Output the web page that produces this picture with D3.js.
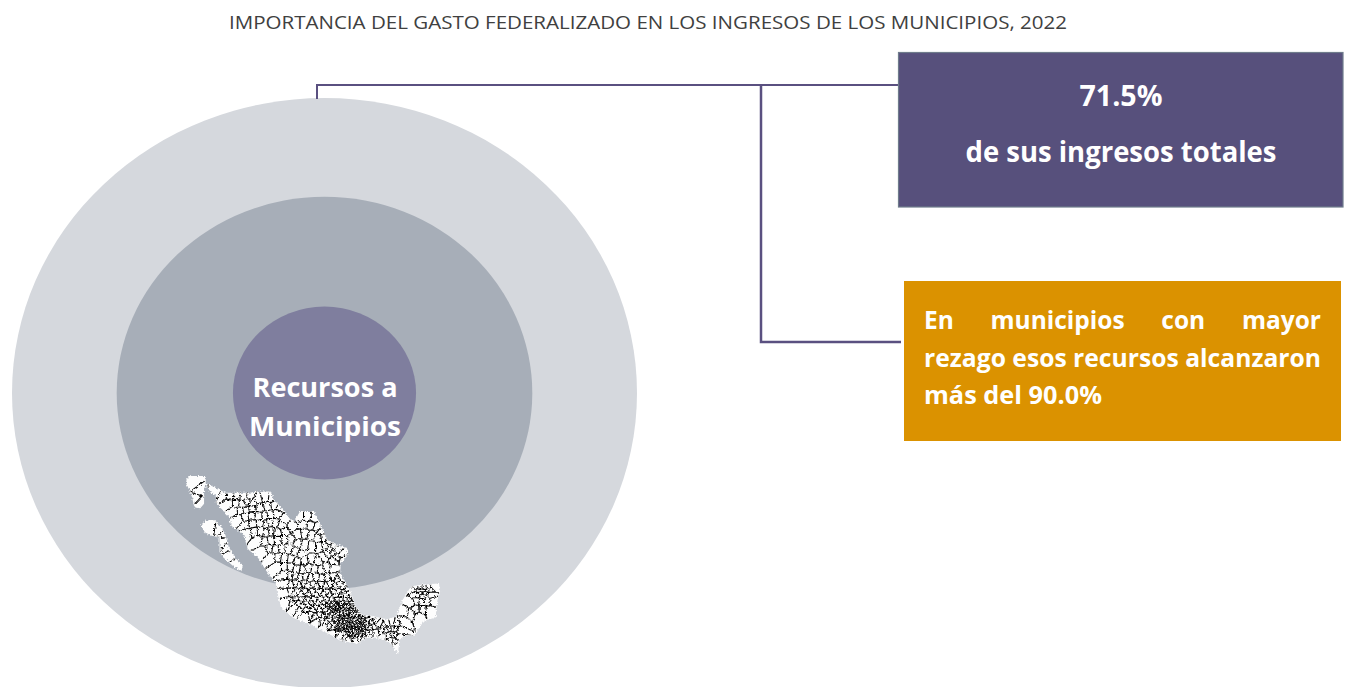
<!DOCTYPE html>
<html>
<head>
<meta charset="utf-8">
<script src="https://cdn.jsdelivr.net/npm/d3@7"></script>
<style>
  html, body { margin: 0; padding: 0; background: #fff; }
  svg { display: block; }
  text { font-family: "Open Sans", "Noto Sans", sans-serif; }
</style>
</head>
<body>
<div id="chart"></div>
<script>
const chartTitle = "IMPORTANCIA DEL GASTO FEDERALIZADO EN LOS INGRESOS DE LOS MUNICIPIOS, 2022";
const ringValues = [100, 66.5, 29.3];
const ringColors = ["#d5d8dd", "#a7aeb8", "#7f7e9e"];
const centerLabel = ["Recursos a", "Municipios"];
const totalLabel = ["71.5%", "de sus ingresos totales"];
const rezagoLabel = ["En municipios con mayor", "rezago esos recursos alcanzaron", "más del 90.0%"];

// map outlines as lon/lat
const mainland = [[-114.94,31.94],[-113.74,31.42],[-112.53,30.9],[-109.53,30.9],[-108.65,31.01],[-107.13,31.01],[-106.73,30.21],[-105.33,28.83],[-104.72,28.14],[-104.12,27.97],[-103.44,29],[-101.92,29],[-101.32,27.97],[-100.32,26.07],[-98.72,25.38],[-97.92,25.2],[-97.92,24.51],[-98.72,23.65],[-98.8,22.61],[-98.12,21.58],[-97.52,20.71],[-96.91,19.16],[-96.11,18.3],[-94.71,18.12],[-93.11,17.78],[-91.91,18.12],[-91.11,19.85],[-90.11,21.23],[-88.7,21.41],[-86.9,21.51],[-86.78,20.71],[-87.1,19.85],[-87.3,18.12],[-88.7,17.78],[-89.91,16.22],[-91.11,16.22],[-91.71,15.71],[-91.79,14.5],[-92.71,15.53],[-94.31,16.05],[-95.51,16.05],[-96.71,15.43],[-98.32,15.71],[-100.32,16.57],[-102.32,17.43],[-104.32,18.12],[-105.73,19.16],[-106.13,20.54],[-106.33,21.58],[-107.53,22.96],[-108.53,24.34],[-109.73,25.2],[-110.13,26.59],[-111.73,27.62],[-111.93,28.49],[-112.73,29.18],[-113.54,30.04],[-113.54,30.73],[-114.14,31.08]];
const bajaNorte = [[-117.1,32.29],[-116.74,32.63],[-114.94,32.63],[-114.94,32.01],[-115.14,31.25],[-115.14,29.87],[-115.54,29.45],[-116.14,29.52],[-116.42,30.56],[-116.82,31.42],[-117.1,31.94]];
const bajaSur = [[-115.3,27.62],[-114.78,28.04],[-113.78,28.04],[-112.98,27.28],[-112.58,26.59],[-112.18,25.38],[-111.38,24.16],[-110.5,23.47],[-110.62,22.96],[-111.3,23.3],[-112.7,24.34],[-113.1,24.86],[-113.1,26.38],[-114.1,26.59],[-114.9,26.94]];

// approximate cabeceras municipales, denser where the picture is darker
const seats = [
[-116.3,31.9],[-115.7,31.2],[-116,30.4],[-115.5,30],[-114.4,27.4],[-113.1,27.2],[-112.6,26.7],[-112.1,25.5],[-111.6,24.6],[-111,23.7],[-112.7,25.9],
[-113.6,31],[-112.8,30.7],[-111.9,30.6],[-111.1,30.6],[-110.3,30.5],[-109.5,30.6],[-112.1,29.9],[-111.2,29.9],[-110.5,29.8],[-109.9,30],[-109.2,29.9],[-111.4,29.1],[-110.7,29.1],[-110,29.2],[-109.3,29.3],[-110.9,28.3],[-110.1,28.5],[-109.4,28.6],[-110,27.6],[-109.3,27.7],[-109.8,26.9],[-109.1,27],
[-108.6,30.3],[-107.7,30.5],[-106.9,30.4],[-108.3,29.4],[-107.4,29.6],[-106.6,29.7],[-105.9,29.5],[-108.4,28.6],[-107.8,28.6],[-107.1,28.7],[-106.3,28.8],[-105.4,28.2],[-108.2,27.8],[-107.7,27.7],[-107.1,27.9],[-106.5,27.8],[-105.7,27.6],[-108.2,27],[-107.6,26.9],[-107,27],[-106.3,26.9],[-105.3,27],[-104.5,27.4],
[-103.6,28.5],[-102.6,28.5],[-101.9,28.4],[-103.1,27.6],[-102.2,27.6],[-101.5,27.4],[-100.9,27],[-103.8,26.7],[-103,26.8],[-102.1,26.6],[-101.4,26.3],[-100.6,26.4],[-100,25.8],[-99.6,25.5],[-99,25],[-99.9,25.1],[-100.5,25.5],[-100.2,24.6],[-99.6,24.8],[-99.2,24.3],[-98.5,24.6],[-98.2,24.1],[-99.5,24],[-100.6,24.3],[-101.2,25.4],[-102.1,25.4],[-103,25.5],
[-108.5,26],[-107.8,25.9],[-107,26],[-106.2,26],[-105.4,26.1],[-104.6,26.1],[-103.8,25.7],[-107.9,25],[-107.2,25.2],[-106.5,25.1],[-105.7,25.2],[-104.9,25.2],[-104.1,24.9],[-103.4,24.6],[-106.9,24.3],[-106.2,24.3],[-105.4,24.2],[-104.6,24.1],[-103.8,23.9],[-103,24],[-102.2,24.1],[-101.4,23.9],[-106.1,23.3],[-105.4,23.3],[-104.7,23.3],[-103.9,23.1],[-103.2,23],[-102.5,23.2],[-101.8,23.1],[-101,23],[-100.3,23.2],[-99.6,23.1],
[-105.3,22.4],[-104.7,22.4],[-104.1,22.3],[-103.5,22.2],[-102.9,22.3],[-102.3,22.1],[-101.6,22.2],[-100.9,22.1],[-100.2,22.2],[-99.6,22.3],[-99,22],[-98.5,22.2],
[-105.2,21.6],[-104.6,21.5],[-104.1,21.6],[-103.6,21.4],[-103.1,21.6],[-102.6,21.4],[-102,21.5],[-101.5,21.3],[-101,21.5],[-100.4,21.3],[-99.9,21.5],[-99.3,21.3],[-98.8,21.5],[-98.3,21.2],[-97.9,21],
[-105.2,20.6],[-104.7,20.7],[-104.2,20.5],[-103.8,20.8],[-103.4,20.5],[-102.9,20.7],[-102.5,20.5],[-102,20.7],[-101.6,20.5],[-101.2,20.7],[-100.7,20.5],[-100.3,20.7],[-99.9,20.5],[-99.5,20.7],[-99.2,20.4],[-98.9,20.7],[-98.6,20.4],[-98.3,20.7],[-98,20.4],[-97.7,20.6],[-97.4,20.2],
[-105,19.8],[-104.5,19.7],[-104.1,19.9],[-103.7,19.6],[-103.3,19.9],[-102.9,19.7],[-102.5,19.9],[-102.2,19.6],[-101.8,19.9],[-101.4,19.6],[-101,19.9],[-100.7,19.6],[-100.3,19.9],[-100,19.6],[-99.7,19.9],[-99.4,19.6],[-99.1,19.9],[-98.9,19.6],[-98.6,19.9],[-98.4,19.6],[-98.1,19.9],[-97.9,19.6],[-97.6,19.9],[-97.3,19.6],[-97.1,19.9],
[-104,19.1],[-103.6,18.9],[-103.2,19.2],[-102.8,18.9],[-102.4,19.2],[-102,18.9],[-101.6,19.2],[-101.2,18.9],[-100.8,19.2],[-100.4,18.9],[-100.1,19.2],[-99.8,18.9],[-99.5,19.2],[-99.3,18.9],[-99,19.2],[-98.8,18.9],[-98.6,19.2],[-98.3,18.9],[-98.1,19.2],[-97.9,18.9],[-97.6,19.2],[-97.4,18.9],[-97.2,19.2],[-96.9,18.9],[-96.7,19.1],
[-102.8,18.3],[-102.2,18.4],[-101.7,18.2],[-101.2,18.4],[-100.7,18.2],[-100.3,18.4],[-99.9,18.2],[-99.6,18.5],[-99.3,18.2],[-99,18.5],[-98.8,18.2],[-98.6,18.5],[-98.4,18.2],[-98.1,18.5],[-97.9,18.2],[-97.7,18.5],[-97.5,18.2],[-97.3,18.5],[-97.1,18.2],[-96.9,18.5],[-96.7,18.25],[-96.5,18.5],[-96.2,18.2],[-95.9,18.45],[-95.5,18.2],[-95.1,18.4],[-94.7,18.1],
[-101.4,17.7],[-100.9,17.8],[-100.4,17.6],[-99.9,17.8],[-99.6,17.6],[-99.3,17.85],[-99,17.6],[-98.8,17.9],[-98.6,17.6],[-98.4,17.85],[-98.2,17.6],[-98,17.9],[-97.8,17.6],[-97.6,17.85],[-97.4,17.55],[-97.2,17.85],[-97,17.6],[-96.8,17.9],[-96.6,17.6],[-96.4,17.85],[-96.2,17.55],[-96,17.85],[-95.7,17.6],[-95.4,17.85],[-95,17.6],[-94.5,17.8],
[-100.5,17.1],[-100,17.2],[-99.6,17],[-99.3,17.25],[-99,17],[-98.8,17.3],[-98.6,17.05],[-98.4,17.3],[-98.2,17],[-98,17.3],[-97.8,17.05],[-97.6,17.3],[-97.4,17],[-97.2,17.3],[-97,17.05],[-96.8,17.3],[-96.6,17],[-96.4,17.25],[-96.2,17],[-96,17.25],[-95.8,17],[-95.5,17.2],[-95.1,17],[-94.6,17.1],
[-99.5,16.6],[-99,16.6],[-98.7,16.45],[-98.4,16.7],[-98.1,16.45],[-97.9,16.75],[-97.7,16.4],[-97.5,16.7],[-97.3,16.45],[-97.1,16.75],[-96.9,16.4],[-96.7,16.7],[-96.5,16.45],[-96.3,16.75],[-96.1,16.4],[-95.8,16.7],[-95.4,16.5],[-95,16.6],[-94.5,16.6],
[-97.6,16],[-97.2,16.05],[-96.8,15.9],[-96.4,16],[-96,15.95],
[-94,17.4],[-93.5,17.2],[-93,17.4],[-92.5,17.5],[-92,17.4],[-93.7,16.7],[-93.2,16.8],[-92.8,16.9],[-92.4,16.9],[-92,16.9],[-91.6,16.7],[-93.4,16.2],[-92.9,16.2],[-92.5,16.3],[-92.1,16.3],[-91.7,16.1],[-92.6,15.7],[-92.2,15.6],[-91.9,15.2],[-91.1,17.7],[-90.9,18.6],
[-89.9,20.9],[-89.6,21.1],[-89.3,20.9],[-89.1,21.15],[-88.8,20.9],[-88.6,21.15],[-88.3,20.9],[-88.1,21.2],[-87.8,20.95],[-87.5,21.2],[-89.7,20.5],[-89.4,20.4],[-89.1,20.55],[-88.8,20.35],[-88.5,20.55],[-88.2,20.4],[-87.8,20.4],[-89.5,19.8],[-88.9,19.7],[-88.2,19.7],[-87.6,19.8],[-90.2,19.6],[-89.6,18.9],[-88.8,18.9],[-88,18.8],[-90.2,18.5],[-89.2,18.2],
// second pass over the darkest part (Puebla, Oaxaca, Veracruz sur)
[-98.7,19.35],[-98.25,19.4],[-97.75,19.4],[-97.25,19.35],[-98.9,18.7],[-98.5,18.7],[-98.2,18.7],[-97.8,18.7],[-97.5,18.7],[-97.15,18.7],[-96.75,18.7],[-96.4,18.75],
[-98.7,18],[-98.3,18.05],[-97.95,18.05],[-97.6,18],[-97.25,18.05],[-96.95,18.05],[-96.6,18],[-96.3,18.05],[-95.95,18.05],
[-98.9,17.45],[-98.5,17.45],[-98.1,17.45],[-97.7,17.45],[-97.3,17.45],[-96.9,17.45],[-96.5,17.45],[-96.1,17.4],[-95.6,17.4],
[-98.9,16.85],[-98.5,16.9],[-98.1,16.85],[-97.7,16.9],[-97.3,16.85],[-96.9,16.9],[-96.5,16.85],[-96.1,16.85],[-95.7,16.9],
[-97.9,16.25],[-97.5,16.2],[-97.1,16.25],[-96.7,16.2],[-96.3,16.25],[-95.9,16.25],[-99.2,19.4],[-99.7,19.35],[-100.2,19.4],[-99.6,18.7],[-100,18.7],[-99.2,18.7]
];

const width = 1350, height = 687;
const cx = 324.5, cy = 393;

const svg = d3.select("#chart").append("svg")
    .attr("width", width)
    .attr("height", height);

svg.append("text")
    .attr("class", "title")
    .attr("x", 229).attr("y", 28.5)
    .attr("font-size", 19)
    .attr("fill", "#404040")
    .text(chartTitle);
fitWidth(svg.select(".title"), 838);

// nested circles, the picture squeezes them a little in height
const rx = d3.scaleLinear().domain([0, 100]).range([0, 312.5]);
const ry = d3.scaleLinear().domain([0, 100]).range([0, 295]);
svg.selectAll(".ring").data(ringValues).join("ellipse")
    .attr("class", "ring")
    .attr("cx", cx).attr("cy", cy)
    .attr("rx", d => rx(d))
    .attr("ry", d => ry(d))
    .attr("fill", (d, i) => ringColors[i]);

// connectors
const lineColor = "#5a5080";
const link = d3.line();
svg.append("path")
    .attr("d", link([[317, 99], [317, 85], [899, 85]]))
    .attr("fill", "none").attr("stroke", lineColor).attr("stroke-width", 2);
svg.append("path")
    .attr("d", link([[761, 85], [761, 342], [901, 342]]))
    .attr("fill", "none").attr("stroke", lineColor).attr("stroke-width", 2.5);

// boxes
svg.append("rect")
    .attr("x", 898.5).attr("y", 52.5).attr("width", 444.5).attr("height", 154.5)
    .attr("fill", "#57507c").attr("stroke", "#6f7c8c").attr("stroke-width", 1.2);
svg.append("rect")
    .attr("x", 904).attr("y", 281).attr("width", 437).attr("height", 160)
    .attr("fill", "#db9200");

// map
const lon = d3.scaleLinear().domain([-117.1, -86.7]).range([187, 440]);
const lat = d3.scaleLinear().domain([32.7, 14.5]).range([476, 652]);
const mapLine = d3.line().x(d => lon(d[0])).y(d => lat(d[1])).curve(d3.curveLinearClosed);
const pieces = [mainland, bajaNorte, bajaSur];

const defs = svg.append("defs");
defs.append("clipPath").attr("id", "mex")
    .selectAll("path").data(pieces).join("path").attr("d", mapLine);

// roughens the outlines and borders so they don't look like straight cells
const rough = defs.append("filter").attr("id", "rough")
    .attr("x", "-5%").attr("y", "-5%").attr("width", "110%").attr("height", "110%");
rough.append("feTurbulence")
    .attr("type", "fractalNoise").attr("baseFrequency", 0.55)
    .attr("numOctaves", 2).attr("seed", 4).attr("result", "noise");
rough.append("feDisplacementMap")
    .attr("in", "SourceGraphic").attr("in2", "noise")
    .attr("scale", 4).attr("xChannelSelector", "R").attr("yChannelSelector", "G")
    .attr("result", "moved");
rough.append("feGaussianBlur").attr("in", "moved").attr("stdDeviation", 0.25);

const map = svg.append("g").attr("filter", "url(#rough)");
map.selectAll(".land").data(pieces).join("path")
    .attr("class", "land")
    .attr("d", mapLine)
    .attr("fill", "#fdfdfd")
    .attr("stroke", "#fdfdfd")
    .attr("stroke-width", 1.5);

const voronoi = d3.Delaunay
    .from(seats, d => lon(d[0]), d => lat(d[1]))
    .voronoi([180, 470, 445, 656]);
map.append("path")
    .attr("clip-path", "url(#mex)")
    .attr("d", voronoi.render())
    .attr("fill", "none")
    .attr("stroke", "#000")
    .attr("stroke-width", 1.05);

// labels
svg.selectAll(".center").data(centerLabel).join("text")
    .attr("class", "center")
    .attr("x", 325)
    .attr("y", (d, i) => 397 + i * 38.5)
    .attr("text-anchor", "middle")
    .attr("font-size", 27).attr("font-weight", 700)
    .attr("fill", "#fff")
    .text(d => d)
    .each(function (d, i) { fitWidth(d3.select(this), [145, 152][i]); });

svg.selectAll(".total").data(totalLabel).join("text")
    .attr("class", "total")
    .attr("x", 1121)
    .attr("y", (d, i) => 106 + i * 56)
    .attr("text-anchor", "middle")
    .attr("font-size", 28).attr("font-weight", 700)
    .attr("fill", "#fff")
    .text(d => d)
    .each(function (d, i) { fitWidth(d3.select(this), [83, 311][i]); });

svg.selectAll(".rezago").data(rezagoLabel).join("text")
    .attr("class", "rezago")
    .attr("x", 924)
    .attr("y", (d, i) => 329 + i * 37.5)
    .attr("font-size", 25).attr("font-weight", 700)
    .attr("fill", "#fff")
    .text(d => d)
    .each(function (d, i) {
        // first two lines are justified
        const sel = d3.select(this);
        if (i === 0) {
            sel.attr("font-size", 24.5);
            const spare = 397 - this.getComputedTextLength();
            sel.attr("word-spacing", spare / (d.split(" ").length - 1));
        } else if (i === 1) {
            fitWidth(sel, 397);
        } else {
            fitWidth(sel, 178);
        }
    });

function fitWidth(sel, w) {
    sel.attr("textLength", w).attr("lengthAdjust", "spacingAndGlyphs");
}
</script>
</body>
</html>
